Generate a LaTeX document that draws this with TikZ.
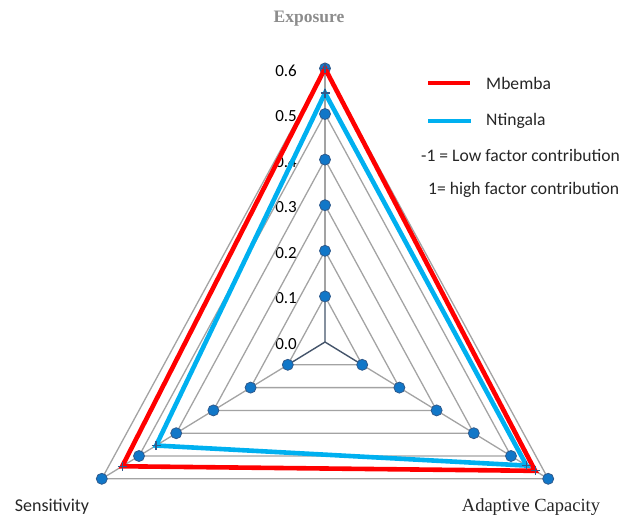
\documentclass[tikz,border=0pt]{standalone}
\usepackage{fontspec}
\setmainfont{Carlito}
\newfontfamily\timesfont{Liberation Serif}
\usetikzlibrary{calc}
\definecolor{mbembaRed}{HTML}{FF0000}
\definecolor{ntingalaBlue}{HTML}{00B0F0}
\definecolor{dotBlue}{HTML}{1177C8}
\definecolor{dotRim}{HTML}{2F5A8C}
\definecolor{axisDark}{HTML}{44546A}
\definecolor{gridGray}{HTML}{A3A3A3}
\definecolor{titleGray}{HTML}{8C8C8C}
\tikzset{
    %grid triangles and axes
    gridline/.style={
           draw=gridGray,
           line width=1.3pt},
    axisline/.style={
           draw=axisDark,
           line width=1.4pt},
    %dots on the rings
    ringdot/.style={
           fill=dotBlue,
           draw=dotRim,
           line width=0.8pt},
    %data lines
    series/.style={
           line width=4.6pt,
           line join=miter},
    crossmark/.style={
           draw=dotRim,
           line width=1.3pt},
    %texts
    scalelabel/.style={
           anchor=east,
           inner sep=0pt,
           font=\fontsize{17}{20}\selectfont},
    legendtext/.style={
           anchor=west,
           inner sep=0pt,
           font=\fontsize{17.6}{20}\selectfont,
           text=black!85},
}

\begin{document}
\begin{tikzpicture}[x=1pt,y=-1pt]
\useasboundingbox (0,0) rectangle (620,517);
\coordinate (centerMid) at (325,342);
\coordinate (dirTop) at (0,-45.6);
\coordinate (dirLeft) at (-37.2,22.8);
\coordinate (dirRight) at (37.2,22.8);

% Skala
\foreach \k in {0,...,6}
  \node[scalelabel] (scale\k) at ($(centerMid)+\k*(dirTop)+(-28,2)$) {0.\k};

% Netz
\foreach \k in {1,...,6}
  \draw[gridline] ($(centerMid)+\k*(dirTop)$) -- ($(centerMid)+\k*(dirRight)$)
     -- ($(centerMid)+\k*(dirLeft)$) -- cycle;

% Achsen
\coordinate (topIn) at ($(centerMid)+(dirTop)$);
\coordinate (leftIn) at ($(centerMid)+(dirLeft)$);
\coordinate (rightIn) at ($(centerMid)+(dirRight)$);
\coordinate (topOut) at ($(centerMid)+6*(dirTop)$);
\coordinate (leftOut) at ($(centerMid)+6*(dirLeft)$);
\coordinate (rightOut) at ($(centerMid)+6*(dirRight)$);
\draw[gridline] (topIn) -- (topOut);
\draw[gridline] (leftIn) -- (leftOut);
\draw[gridline] (rightIn) -- (rightOut);
\draw[axisline] (topIn) -- (centerMid) -- (leftIn);
\draw[axisline] (centerMid) -- (rightIn);

% Punkte
\foreach \k in {1,...,6} {
  \filldraw[ringdot] ($(centerMid)+\k*(dirTop)$) circle (5.5);
  \filldraw[ringdot] ($(centerMid)+\k*(dirLeft)$) circle (5.5);
  \filldraw[ringdot] ($(centerMid)+\k*(dirRight)$) circle (5.5);
}

% Mbemba
\coordinate (mbTop) at ($(centerMid)+6*(dirTop)$);
\coordinate (mbLeft) at ($(centerMid)+5.45*(dirLeft)$);
\coordinate (mbRight) at ($(centerMid)+5.65*(dirRight)$);
\draw[series, mbembaRed] (mbTop) -- (mbRight) -- (mbLeft) -- cycle;

% Ntingala
\coordinate (ntTop) at ($(centerMid)+5.46*(dirTop)$);
\coordinate (ntLeft) at ($(centerMid)+4.54*(dirLeft)$);
\coordinate (ntRight) at ($(centerMid)+5.42*(dirRight)$);
\draw[series, ntingalaBlue] (ntTop) -- (ntRight) -- (ntLeft) -- cycle;

% Kreuze
\foreach \p in {mbTop,mbLeft,mbRight,ntTop,ntLeft,ntRight}
  \draw[crossmark] (\p) +(-4.5,0) -- +(4.5,0) (\p) +(0,-4.5) -- +(0,4.5);

% Titel
\node[font=\timesfont\bfseries\fontsize{17.5}{20}\selectfont, text=titleGray]
  (titleExposure) at (309,19) {Exposure};
\node[font=\fontsize{18}{20}\selectfont, text=black!85]
  (titleSensitivity) at (52,507) {Sensitivity};
\node[font=\timesfont\fontsize{18.5}{20}\selectfont, text=black!85]
  (titleAdaptive) at (531,507) {Adaptive Capacity};

% Legende
\coordinate (legRedA) at (428,83);
\coordinate (legRedB) at (470,83);
\coordinate (legBlueA) at (428,121);
\coordinate (legBlueB) at (471,121);
\draw[series, mbembaRed, line cap=butt] (legRedA) -- (legRedB);
\draw[series, ntingalaBlue, line cap=butt] (legBlueA) -- (legBlueB);
\node[legendtext] (legMbemba) at (486,83) {Mbemba};
\node[legendtext] (legNtingala) at (486,121) {Ntingala};
\node[legendtext] (legLow) at (421,155) {-1 = Low factor contribution};
\node[legendtext] (legHigh) at (428,190) {1= high factor contribution};
\end{tikzpicture}
\end{document}
